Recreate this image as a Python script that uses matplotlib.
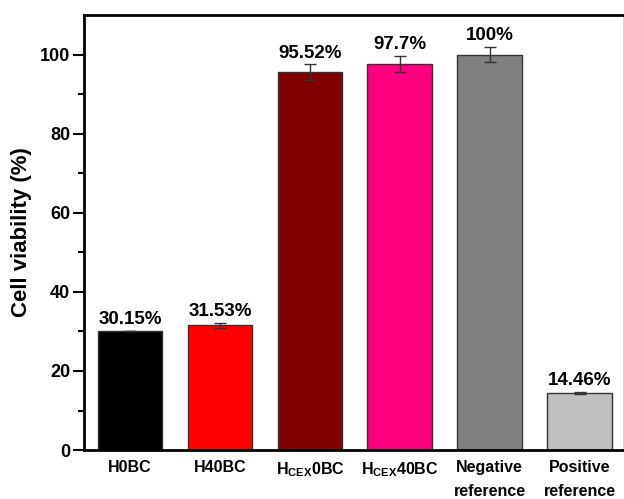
import numpy as np
import matplotlib
matplotlib.use("Agg")
import matplotlib.pyplot as plt

plt.rcParams['font.family'] = ['Liberation Sans', 'DejaVu Sans']
plt.rcParams['font.weight'] = 'bold'
plt.rcParams['mathtext.fontset'] = 'custom'
plt.rcParams['mathtext.rm'] = 'Liberation Sans:bold'
plt.rcParams['mathtext.bf'] = 'Liberation Sans:bold'

# data
samples = ['H0BC', 'H40BC', r'H$_{\mathrm{CEX}}$0BC', r'H$_{\mathrm{CEX}}$40BC',
           'Negative\nreference', 'Positive\nreference']
viability = [30.15, 31.53, 95.52, 97.7, 100.0, 14.46]
errors = [0.0, 0.7, 2.0, 2.0, 2.0, 0.3]
labels = ['30.15%', '31.53%', '95.52%', '97.7%', '100%', '14.46%']
colors = ['#000000', '#FF0000', '#800000', '#FF0080', '#808080', '#C0C0C0']

fig = plt.figure(figsize=(6.24, 4.99), dpi=100)
ax = fig.add_axes([0.135, 0.098, 0.863, 0.872])

x = np.arange(len(samples))
ax.bar(x, viability, width=0.72, color=colors, edgecolor='#333333', linewidth=1.0,
       yerr=errors, error_kw=dict(ecolor='#333333', elinewidth=1.0, capsize=4, capthick=1.0))

for xi, v, e, lab in zip(x, viability, errors, labels):
    ax.annotate(lab, (xi, v + e), xytext=(0, 2), textcoords='offset points',
                ha='center', va='bottom', fontsize=13.5, fontweight='bold')

ax.set_xlim(-0.51, 5.48)
ax.set_ylim(0, 110)
ax.set_yticks([0, 20, 40, 60, 80, 100])
ax.set_yticks([10, 30, 50, 70, 90], minor=True)
ax.set_xticks(x)
ax.set_xticklabels(samples, fontsize=11.5, fontweight='bold', linespacing=1.75, va='top')
ax.tick_params(axis='x', length=0, pad=7)
ax.tick_params(axis='y', which='major', length=8, width=1.5, labelsize=13, pad=2)
ax.tick_params(axis='y', which='minor', length=4, width=1.5)
for t in ax.get_yticklabels():
    t.set_fontweight('bold')

ax.set_ylabel('Cell viability (%)', fontsize=16, fontweight='bold', labelpad=6)

ax.spines['left'].set_linewidth(2)
ax.spines['bottom'].set_linewidth(2)
ax.spines['top'].set_linewidth(2)
ax.spines['right'].set_linewidth(0.6)
ax.spines['right'].set_color('#cccccc')

fig.savefig('out.png', dpi=100)
